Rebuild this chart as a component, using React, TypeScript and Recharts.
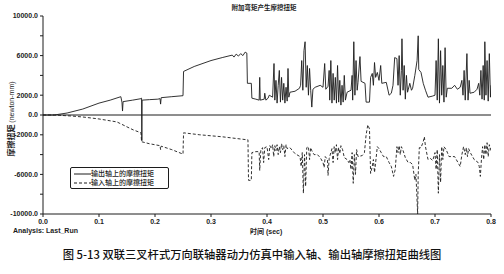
import { LineChart, Line, XAxis, YAxis, ReferenceLine } from 'recharts';

// [time (sec), torque (newton-mm)]
const outputShaft: [number, number][] = [
  [0, 0], [0.02, 0], [0.043, 200], [0.071, 600], [0.1, 1200], [0.12, 1500], [0.139, 1850],
  [0.141, 1300], [0.142, 400], [0.143, 1350], [0.16, 1500], [0.175, 1650], [0.176, 1700],
  [0.1765, -2600], [0.177, 1500], [0.19, 1550], [0.205, 1600], [0.209, 1650], [0.21, 1100],
  [0.211, 1750], [0.23, 1850], [0.25, 1950], [0.251, 4400], [0.27, 4900], [0.3, 5500],
  [0.32, 5800], [0.338, 6050], [0.341, 5850], [0.345, 6150], [0.349, 5950], [0.353, 6200],
  [0.357, 6000], [0.361, 6350], [0.364, 6250], [0.365, 3200],
  [0.372, 3200], [0.373, 1700], [0.38, 1600], [0.386, 1500], [0.387, 3800], [0.388, 1500],
  [0.395, 1600], [0.396, 2200], [0.398, 1500], [0.402, 1700], [0.404, 2000], [0.41, 1800],
  [0.4125, 5200], [0.414, 1500], [0.416, 3500], [0.418, 1200], [0.42, 3000], [0.422, 4500],
  [0.424, 1300], [0.426, 3800], [0.428, 1500], [0.43, 3200], [0.432, 1200], [0.434, 2800],
  [0.436, 1400], [0.4375, 4700], [0.439, 1800], [0.441, 2300], [0.45, 2400], [0.458, 2700],
  [0.46, 3000], [0.462, 5500], [0.464, 2500], [0.466, 6500], [0.468, 7400], [0.47, 2800],
  [0.472, 5000], [0.474, 2000], [0.476, 4700], [0.478, 2500], [0.48, 800], [0.482, 2600],
  [0.486, 2800], [0.495, 3000], [0.5, 2800], [0.503, 5200], [0.505, 2600], [0.509, 2900],
  [0.511, 4500], [0.512, 1500], [0.514, 5500], [0.516, 1200], [0.518, 4200], [0.52, 1500],
  [0.522, 3800], [0.524, 1200], [0.526, 5000], [0.528, 1300], [0.53, 3500], [0.532, 1000],
  [0.534, 3000], [0.536, 1300], [0.538, 4000], [0.54, 1500], [0.543, 2300], [0.55, 2500],
  [0.552, 4000], [0.553, 1500], [0.555, 7400], [0.557, 2000], [0.559, 5500], [0.561, 2500],
  [0.5625, 3300], [0.566, 5900], [0.568, 3400], [0.575, 3200], [0.577, 1300], [0.583, 1300],
  [0.585, 3800], [0.588, 4200], [0.59, 3000], [0.592, 5300], [0.594, 3800], [0.597, 4300],
  [0.6, 3500], [0.603, 5000], [0.605, 3200], [0.613, 3300], [0.618, 2000], [0.622, 2200],
  [0.625, 3000], [0.628, 5800], [0.632, 5700], [0.634, 3000], [0.636, 6000], [0.638, 2000],
  [0.64, 4500], [0.641, 7700], [0.643, 2500], [0.645, 5000], [0.647, 1600], [0.649, 4000],
  [0.651, 2300], [0.655, 3200], [0.658, 2500], [0.66, 2700], [0.664, 4000], [0.668, 5500],
  [0.67, 8000], [0.671, 4600], [0.675, 4300], [0.679, 3200], [0.683, 2500], [0.6875, 1800],
  [0.695, 1900], [0.7, 2000], [0.702, 5500], [0.704, 1500], [0.706, 7700], [0.708, 1200],
  [0.71, 6500], [0.712, 2000], [0.714, 5000], [0.716, 1300], [0.718, 6800], [0.72, 1800],
  [0.722, 2700], [0.73, 2700], [0.735, 3000], [0.74, 2600], [0.745, 2800], [0.748, 3500],
  [0.75, 2000], [0.752, 4500], [0.754, 1500], [0.757, 6200], [0.759, 1500], [0.761, 3500],
  [0.7625, 2200], [0.77, 2300], [0.775, 2600], [0.778, 3200], [0.78, 2000], [0.782, 4500],
  [0.784, 1600], [0.786, 5000], [0.788, 1500], [0.789, 7400], [0.791, 2000], [0.793, 5500],
  [0.795, 1400], [0.797, 6200], [0.799, 1800], [0.8, 3000],
];

const inputShaft: [number, number][] = [
  [0, 0], [0.02, 0], [0.05, -100], [0.071, -200], [0.1, -400], [0.132, -700], [0.15, -1200],
  [0.161, -1500], [0.175, -1800], [0.176, -2700], [0.19, -2900], [0.209, -3100], [0.21, -3500],
  [0.211, -3150], [0.23, -3500], [0.25, -3950], [0.251, -1800], [0.28, -2000], [0.32, -2200],
  [0.364, -2500], [0.366, -2500], [0.367, -6600], [0.372, -6600], [0.373, -3800],
  [0.38, -3700], [0.386, -3700], [0.387, -5600], [0.389, -3500], [0.392, -3300], [0.394, -4800],
  [0.396, -3300], [0.4, -3200], [0.403, -4500], [0.405, -3100], [0.408, -3400], [0.41, -3000],
  [0.412, -4200], [0.414, -3100], [0.416, -3600], [0.418, -3000], [0.42, -4000], [0.422, -3200],
  [0.424, -3800], [0.426, -2900], [0.428, -3500], [0.43, -3100], [0.432, -4200], [0.434, -3000],
  [0.436, -3400], [0.441, -3300], [0.45, -3900], [0.459, -4200], [0.461, -5200], [0.463, -3800],
  [0.465, -7900], [0.467, -4000], [0.469, -7200], [0.471, -3300], [0.474, -3200], [0.476, -4500],
  [0.478, -3300], [0.48, -3600], [0.484, -4000], [0.49, -4000], [0.495, -4300], [0.5, -4800],
  [0.502, -5300], [0.504, -4200], [0.508, -4500], [0.509, -6100], [0.511, -4400], [0.516, -3400],
  [0.518, -4800], [0.52, -3200], [0.522, -3800], [0.524, -3000], [0.526, -4500], [0.528, -3300],
  [0.53, -3900], [0.532, -3100], [0.535, -3500], [0.538, -4300], [0.543, -4500], [0.546, -4800],
  [0.548, -4500], [0.55, -5500], [0.552, -3800], [0.554, -6900], [0.556, -4000], [0.558, -6000],
  [0.56, -3500], [0.5625, -4200], [0.57, -4100], [0.574, -3800], [0.577, -2000], [0.58, -1000],
  [0.583, -1400], [0.585, -5900], [0.588, -5200], [0.59, -4500], [0.592, -5800], [0.594, -4800],
  [0.597, -3200], [0.6, -3400], [0.604, -3800], [0.608, -4200], [0.613, -4200], [0.618, -4800],
  [0.622, -5200], [0.626, -6200], [0.629, -5500], [0.632, -3200], [0.634, -3800], [0.636, -3100],
  [0.638, -4000], [0.64, -3200], [0.643, -3600], [0.647, -4300], [0.652, -4800], [0.656, -4800],
  [0.66, -5000], [0.664, -6600], [0.666, -6000], [0.669, -10000], [0.67, -6000], [0.672, -3300],
  [0.675, -3300], [0.679, -2700], [0.681, -2200], [0.683, -3200], [0.6875, -4500], [0.692, -4400],
  [0.696, -4600], [0.7, -3800], [0.702, -5500], [0.704, -3500], [0.706, -7900], [0.708, -4000],
  [0.71, -6800], [0.712, -3200], [0.714, -4500], [0.716, -3200], [0.72, -3500], [0.725, -4200],
  [0.735, -4200], [0.745, -5200], [0.748, -4000], [0.751, -3200], [0.754, -4000], [0.756, -3300],
  [0.758, -4200], [0.76, -3400], [0.764, -3900], [0.77, -4500], [0.777, -4800], [0.779, -5200],
  [0.781, -6200], [0.783, -4400], [0.785, -3200], [0.787, -4500], [0.789, -3000], [0.791, -4000],
  [0.793, -2800], [0.795, -4200], [0.797, -3000], [0.8, -3600],
];

const timeTicks = [0, 0.1, 0.2, 0.3, 0.4, 0.5, 0.6, 0.7, 0.8];
const torqueTicks = [-10000, -8000, -6000, -4000, -2000, 0, 2000, 4000, 6000, 8000, 10000];
const labelledTorque = [10000, 6000, 2000, 0, -2000, -6000, -10000];

const outputData = outputShaft.map(([t, v]) => ({ t, v }));
const inputData = inputShaft.map(([t, v]) => ({ t, v }));

const ink = '#1c1c1c';
const latin = 'Liberation Sans, Arial, sans-serif';
const tickStyle = { fontSize: 7, fill: ink, fontFamily: latin, fontWeight: 700 };
const cjk = '"Noto Sans CJK SC", sans-serif';

export default function App() {
  return (
    <div style={{ position: 'absolute', left: 0, top: 0, width: 504, height: 274, background: '#fff' }}>
      <LineChart width={504} height={274} margin={{ top: 16, right: 13, bottom: 40, left: 5 }}>
        <XAxis
          xAxisId="b"
          dataKey="t"
          type="number"
          domain={[0, 0.8]}
          ticks={timeTicks}
          tickFormatter={(v: number) => v.toFixed(1)}
          tick={tickStyle}
          tickSize={3}
          height={20}
          stroke={ink}
          allowDataOverflow
        />
        <XAxis xAxisId="top" orientation="top" type="number" domain={[0, 0.8]} tick={false} tickLine={false} height={0} stroke={ink} />
        <YAxis
          yAxisId="l"
          type="number"
          domain={[-10000, 10000]}
          ticks={torqueTicks}
          tickFormatter={(v: number) => (labelledTorque.includes(v) ? v.toFixed(1) : '')}
          tick={tickStyle}
          tickSize={3}
          width={38}
          stroke={ink}
          allowDataOverflow
        />
        <YAxis yAxisId="r" orientation="right" type="number" domain={[-10000, 10000]} tick={false} tickLine={false} width={0} stroke={ink} />
        <ReferenceLine xAxisId="b" yAxisId="l" y={0} stroke={ink} strokeWidth={1} />
        <Line
          xAxisId="b"
          yAxisId="l"
          data={outputData}
          dataKey="v"
          type="linear"
          stroke={ink}
          strokeWidth={0.9}
          dot={false}
          isAnimationActive={false}
        />
        <Line
          xAxisId="b"
          yAxisId="l"
          data={inputData}
          dataKey="v"
          type="linear"
          stroke={ink}
          strokeWidth={0.9}
          strokeDasharray="3 2"
          dot={false}
          isAnimationActive={false}
        />
      </LineChart>

      <div style={{ position: 'absolute', left: 214, top: 2, width: 100, textAlign: 'center', fontFamily: cjk, fontSize: 6.5, fontWeight: 700, color: ink }}>
        附加弯矩产生摩擦扭矩
      </div>

      <div style={{ position: 'absolute', left: 10, top: 119, width: 0, height: 0 }}>
        <div style={{ position: 'absolute', transform: 'translate(-50%, -50%) rotate(-90deg)', whiteSpace: 'nowrap', fontSize: 8, color: ink }}>
          <span style={{ fontFamily: cjk, fontWeight: 700 }}>摩擦扭矩</span>
          <span style={{ fontFamily: latin, fontSize: 7 }}> (newton-mm)</span>
        </div>
      </div>

      <div
        style={{
          position: 'absolute', left: 70, top: 167, width: 99, height: 22,
          border: `1px solid ${ink}`, borderRadius: 2, background: '#fff',
          fontFamily: cjk, fontSize: 7, fontWeight: 500, color: ink, lineHeight: '9px', padding: '1px 0 0 3px', boxSizing: 'border-box',
        }}
      >
        <div style={{ display: 'flex', alignItems: 'center' }}>
          <svg width={17} height={9}><line x1={0} y1={5} x2={17} y2={5} stroke={ink} strokeWidth={1} /></svg>
          <span>输出轴上的摩擦扭矩</span>
        </div>
        <div style={{ display: 'flex', alignItems: 'center' }}>
          <svg width={17} height={9}><line x1={0} y1={5} x2={17} y2={5} stroke={ink} strokeWidth={1} strokeDasharray="3 2" /></svg>
          <span>输入轴上的摩擦扭矩</span>
        </div>
      </div>

      <div style={{ position: 'absolute', left: 13, top: 227, fontFamily: latin, fontSize: 7, fontWeight: 700, color: ink, whiteSpace: 'nowrap' }}>
        Analysis: Last_Run
      </div>
      <div style={{ position: 'absolute', left: 250, top: 226, fontSize: 7, color: ink, whiteSpace: 'nowrap' }}>
        <span style={{ fontFamily: cjk, fontWeight: 700 }}>时间</span>
        <span style={{ fontFamily: latin, fontWeight: 700 }}> (sec)</span>
      </div>

      <div style={{ position: 'absolute', left: 0, top: 246, width: 504, textAlign: 'center', fontFamily: cjk, fontSize: 11.3, fontWeight: 500, color: '#111', whiteSpace: 'nowrap' }}>
        图 5-13 双联三叉杆式万向联轴器动力仿真中输入轴、输出轴摩擦扭矩曲线图
      </div>
    </div>
  );
}
